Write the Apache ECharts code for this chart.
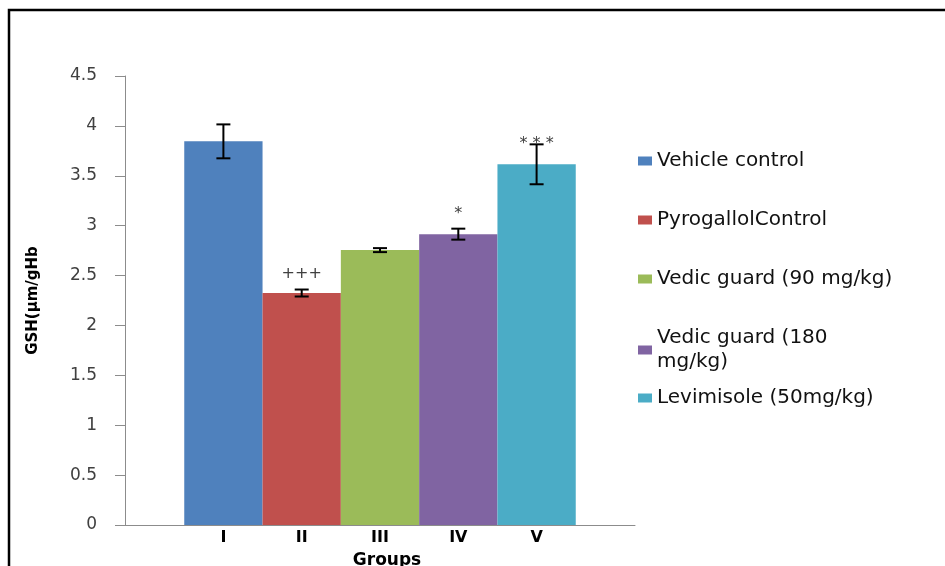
<!DOCTYPE html>
<html>
<head>
<meta charset="utf-8">
<script src="https://cdn.jsdelivr.net/npm/echarts@6/dist/echarts.min.js"></script>
<style>
  html,body{margin:0;padding:0;background:#fff;}
  #chart{width:945px;height:566px;}
</style>
</head>
<body>
<div id="chart"></div>
<script>
// ===== Data
const groups       = ['I', 'II', 'III', 'IV', 'V'];
const names        = ['Vehicle control', 'PyrogallolControl', 'Vedic guard (90 mg/kg)', 'Vedic guard (180 mg/kg)', 'Levimisole (50mg/kg)'];
const legendLabels = ['Vehicle control', 'PyrogallolControl', 'Vedic guard (90 mg/kg)', 'Vedic guard (180\nmg/kg)', 'Levimisole (50mg/kg)'];
const gsh          = [3.845, 2.325, 2.755, 2.915, 3.615];
const sem          = [0.17, 0.035, 0.02, 0.055, 0.2];
const sigMarks     = ['', '+++', '', '*', '* * *'];
const sigY         = [null, 2.52, null, 3.12, 3.82];
const yMin = 0, yMax = 4.5, yStep = 0.5;

// ===== Style
const colors = ['#4F81BD', '#C0504D', '#9BBB59', '#8064A2', '#4BACC6'];
const BAR_W = 78.3;
const FONT = 'DejaVu Sans';

const chart = echarts.init(document.getElementById('chart'));

const barSeries = names.map((n, i) => ({
  name: n,
  type: 'bar',
  barWidth: BAR_W,
  barGap: '0%',
  data: [gsh[i]],
  itemStyle: { color: colors[i] },
  label: {
    show: true, position: 'bottom', distance: 5,
    formatter: () => groups[i],
    fontFamily: FONT, fontWeight: 'bold', fontSize: 16, color: '#000'
  },
  emphasis: { disabled: true }
}));

// error bars + significance marks, drawn through the axes
const errSeries = {
  type: 'custom',
  z: 5,
  silent: true,
  encode: { x: 0, y: 2 },
  data: gsh.map((v, i) => [0, i, v, sem[i]]),
  renderItem(params, api){
    const i = api.value(1), m = api.value(2), e = api.value(3);
    const cx = api.coord([0, m])[0] + (i - 2) * BAR_W;
    const yt = api.coord([0, m + e])[1];
    const yb = api.coord([0, m - e])[1];
    const st = { stroke: '#000', lineWidth: 2 };
    const kids = [
      { type: 'line', shape: { x1: cx, y1: yt, x2: cx, y2: yb }, style: st },
      { type: 'line', shape: { x1: cx - 7, y1: yt, x2: cx + 7, y2: yt }, style: st },
      { type: 'line', shape: { x1: cx - 7, y1: yb, x2: cx + 7, y2: yb }, style: st }
    ];
    if (sigMarks[i]) {
      const sy = api.coord([0, sigY[i]])[1];
      kids.push({ type: 'text', style: {
        text: sigMarks[i], x: cx, y: sy, align: 'center', verticalAlign: 'middle',
        font: '16px "DejaVu Sans"', fill: '#404040'
      }});
    }
    return { type: 'group', children: kids };
  }
};

const legendBase = {
  orient: 'vertical', left: 638, padding: 0, itemWidth: 14, itemHeight: 9, itemGap: 35,
  selectedMode: false, icon: 'rect',
  formatter: n => legendLabels[names.indexOf(n)],
  textStyle: { fontFamily: FONT, fontSize: 20, color: '#111', lineHeight: 24 }
};

chart.setOption({
  animation: false,
  backgroundColor: '#fff',
  graphic: [{
    type: 'rect', shape: { x: 9, y: 10, width: 1200, height: 1200 },
    style: { fill: 'none', stroke: '#000', lineWidth: 2.5 }, silent: true
  }],
  legend: [
    Object.assign({}, legendBase, { top: 149, data: names.slice(0, 4) }),
    Object.assign({}, legendBase, { top: 386, data: names.slice(4) })
  ],
  grid: { left: 125, right: 310, top: 76, bottom: 41, outerBoundsMode: 'none', containLabel: false },
  xAxis: {
    type: 'category', data: [''],
    axisLine: { lineStyle: { color: '#8c8c8c', width: 1 } },
    axisTick: { show: false }, axisLabel: { show: false },
    name: 'Groups', nameLocation: 'middle', nameGap: 27,
    nameTextStyle: { fontFamily: FONT, fontWeight: 'bold', fontSize: 17, color: '#000', padding: [0, 0, 0, 14] }
  },
  yAxis: {
    type: 'value', min: yMin, max: yMax, interval: yStep,
    axisLine: { show: true, lineStyle: { color: '#8c8c8c', width: 1 } },
    axisTick: { show: true, length: 10, lineStyle: { color: '#8c8c8c' } },
    splitLine: { show: false },
    axisLabel: { margin: 28, fontFamily: FONT, fontSize: 17, color: '#404040' },
    name: 'GSH(µm/gHb', nameLocation: 'middle', nameRotate: 90, nameGap: 84,
    nameTextStyle: { fontFamily: FONT, fontWeight: 'bold', fontSize: 15, color: '#000' }
  },
  series: barSeries.concat([errSeries])
});
</script>
</body>
</html>
